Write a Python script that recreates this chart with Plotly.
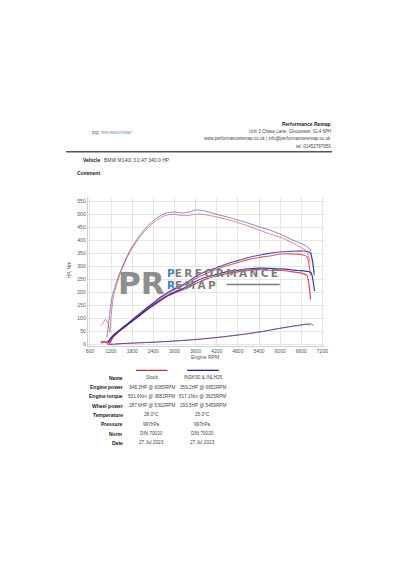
import plotly.graph_objects as go

# ---------------- data ----------------
stock_torque_rpm = [900, 950, 1040, 1116, 1165, 1200, 1260, 1320, 1400, 1500, 1650, 1800, 2000, 2200, 2400, 2600, 2800, 3000, 3240, 3450, 3682, 3900, 4200, 4500, 4800, 5100, 5400, 5700, 6065, 6300, 6500, 6650, 6760, 6830, 6860]
stock_torque = [72, 77, 97, 80, 45, 110, 175, 212, 248, 285, 333, 370, 410, 443, 467, 487, 498, 500, 495, 497, 501.6, 498, 490, 480, 468, 455, 440, 425, 409, 394, 380, 368, 355, 330, 315]

stock_power_rpm = [900, 960, 1040, 1100, 1160, 1200, 1260, 1320, 1400, 1500, 1650, 1800, 2000, 2200, 2400, 2600, 2800, 3000, 3240, 3450, 3682, 3900, 4200, 4500, 4800, 5100, 5400, 5700, 6065, 6300, 6500, 6650, 6760, 6830, 6860]
stock_power = [8, 12, 10, 13, 6, 18, 31, 39, 49, 60, 77, 94, 115, 137, 157, 178, 196, 211, 225, 241, 259, 273, 289, 303, 315, 326, 334, 340, 348.3, 348, 347, 344, 338, 300, 265]

stock_wheel_rpm = [920, 1000, 1100, 1160, 1200, 1260, 1320, 1400, 1500, 1650, 1800, 2000, 2200, 2400, 2600, 2800, 3000, 3240, 3450, 3682, 3900, 4200, 4500, 4800, 5100, 5302, 5500, 5700, 6065, 6300, 6500, 6650, 6760, 6830, 6863]
stock_wheel = [5, 9, 6, 5, 15, 28, 36, 46, 57, 73, 89, 109, 130, 149, 168, 185, 198, 210, 224, 239, 251, 263, 272, 279, 284, 287.6, 287, 285, 284, 280, 276, 272, 265, 220, 173]

stock_loss_rpm = [1160, 1300, 1500, 2000, 2500, 3000, 3500, 4000, 4500, 5000, 5500, 6000, 6300, 6500, 6650, 6760, 6820, 6850]
stock_loss = [0, 1, 3, 6, 9, 13, 17, 23, 31, 39, 49, 62, 68, 72, 75, 77, 76, 70]

tuned_torque_rpm = [1080, 1130, 1180, 1250, 1320, 1400, 1500, 1650, 1800, 2000, 2200, 2400, 2600, 2800, 3000, 3240, 3450, 3625, 3850, 4200, 4500, 4800, 5100, 5400, 5700, 6065, 6300, 6500, 6652, 6750, 6850, 6920, 6960]
tuned_torque = [25, 80, 140, 195, 225, 258, 292, 338, 376, 416, 450, 475, 495, 506, 509, 505, 510, 517.1, 513, 500, 490, 478, 466, 452, 440, 420, 405, 393, 384.5, 377, 366, 320, 276]

tuned_power_rpm = [1100, 1130, 1180, 1250, 1320, 1400, 1500, 1650, 1800, 2000, 2200, 2400, 2600, 2800, 3000, 3240, 3450, 3625, 3850, 4200, 4500, 4800, 5100, 5400, 5700, 6065, 6300, 6500, 6652, 6750, 6850, 6920, 6970]
tuned_power = [4, 13, 23, 34, 42, 51, 62, 78, 95, 117, 139, 160, 181, 199, 214, 230, 247, 263, 278, 295, 310, 322, 334, 343, 350, 356, 357.5, 358.5, 359.2, 358, 352, 320, 265]

tuned_wheel_rpm = [1130, 1180, 1250, 1320, 1400, 1500, 1650, 1800, 2000, 2200, 2400, 2600, 2800, 3000, 3240, 3450, 3625, 3850, 4200, 4500, 4800, 5100, 5459, 5700, 6065, 6300, 6500, 6652, 6750, 6880, 6940, 6976]
tuned_wheel = [10, 20, 31, 40, 49, 59, 74, 90, 111, 132, 152, 171, 188, 201, 215, 229, 244, 256, 269, 280, 285, 290, 293.5, 292, 290, 287, 284, 283, 281, 276, 240, 205]

tuned_loss_rpm = [1100, 1300, 1500, 2000, 2500, 3000, 3500, 4000, 4500, 5000, 5500, 6000, 6300, 6500, 6700, 6850, 6920, 6950]
tuned_loss = [0, 1, 3, 6, 9, 13, 18, 24, 31, 40, 50, 62, 69, 73, 77, 79, 76, 70]

x_ticks = [600, 1200, 1800, 2400, 3000, 3600, 4200, 4800, 5400, 6000, 6600, 7200]
y_ticks = [0, 50, 100, 150, 200, 250, 300, 350, 400, 450, 500, 550]

run_names = ["Stock", "INDK50 & INLH25"]
row_labels = ["Name", "Engine power", "Engine torque", "Wheel power", "Temperature", "Pressure", "Norm", "Date"]
stock_col = ["Stock", "348.3HP @ 6065RPM", "501.6Nm @ 3682RPM", "287.6HP @ 5302RPM", "28.0°C", "997hPa", "DIN 70020", "27 Jul 2023"]
tuned_col = ["INDK50 & INLH25", "359.2HP @ 6652RPM", "517.1Nm @ 3625RPM", "293.5HP @ 5459RPM", "25.0°C", "997hPa", "DIN 70020", "27 Jul 2023"]

header_lines = ["Unit 3 Chase Lane, Gloucester, GL4 6PH",
                "www.performanceremap.co.uk | info@performanceremap.co.uk",
                "tel. 01452787050"]

# ---------------- styling ----------------
W, H = 400, 570
FONT = "Liberation Sans, Arial, sans-serif"
RED = "#d2344c"
BLUE = "#2a249c"

def px(x):
    return x / W

def py(y):
    return 1 - y / H

fig = go.Figure()

def add_line(xs, ys, color, opacity, width=1.0):
    fig.add_trace(go.Scatter(x=xs, y=ys, mode="lines", line=dict(color=color, width=width, shape="spline", smoothing=0.6),
                             opacity=opacity, hoverinfo="skip", showlegend=False))

add_line(stock_loss_rpm, stock_loss, RED, 0.6)
add_line(tuned_loss_rpm, tuned_loss, BLUE, 0.7)
add_line(stock_torque_rpm, stock_torque, RED, 0.6)
add_line(tuned_torque_rpm, tuned_torque, BLUE, 0.55)
add_line(stock_power_rpm, stock_power, RED, 0.8, 1.1)
add_line(tuned_power_rpm, tuned_power, BLUE, 0.8, 1.1)
add_line(stock_wheel_rpm, stock_wheel, RED, 0.9, 1.2)
add_line(tuned_wheel_rpm, tuned_wheel, BLUE, 0.9, 1.2)

ann = []

def txt(x, y, s, size=5, bold=False, anchor="left", color="#333333", family=FONT, angle=0):
    ann.append(dict(x=px(x), y=py(y), xref="paper", yref="paper", text=("<b>%s</b>" % s) if bold else s,
                    showarrow=False, xanchor=anchor, yanchor="middle", textangle=angle, borderpad=0,
                    font=dict(size=size, color=color, family=family)))

# header
txt(335, 124, "Performance Remap", size=5, bold=True, anchor="right", color="#222222")
for i, line in enumerate(header_lines):
    txt(335, 131.5 + i * 7.7, line, size=4.5, anchor="right", color="#444444")

# tiny logo at left of header
txt(90, 133, "PR", size=5, bold=True, color="#9a9a9a", anchor="left")
txt(99, 133, "PERFORMANCE REMAP", size=2.6, bold=True, color="#8fa8c8", anchor="left")

txt(100, 160.5, "Vehicle", size=5, bold=True, anchor="right", color="#222222")
txt(103, 160.5, "BMW M140I 3.0 AT 340.0 HP", size=5, anchor="left", color="#444444")
txt(75, 173.5, "Comment", size=5, bold=True, anchor="left", color="#222222")

# axis titles
txt(68, 270, "HP, Nm", size=5, color="#555555", anchor="center", angle=-90)
txt(206, 357.5, "Engine RPM", size=5, color="#555555", anchor="center")

# watermark logo
txt(141.5, 283.5, "PR", size=31, bold=True, anchor="center", color="#8e8e8e", family="DejaVu Sans")
txt(167, 273.5, "<span style='color:#3d82c4'>P</span><span style='letter-spacing:2.4px'>ERFORMANCE</span>", size=10.5, bold=True,
    anchor="left", color="#7d7d7d", family="DejaVu Sans")
txt(167, 285, "<span style='color:#3d82c4'>R</span><span style='letter-spacing:2.4px'>EMAP</span>", size=10.5, bold=True,
    anchor="left", color="#7d7d7d", family="DejaVu Sans")

# table
for i, lab in enumerate(row_labels):
    yy = 378.5 + i * 9.3
    txt(123.5, yy, lab, size=5, bold=True, anchor="right", color="#222222")
    txt(152, yy, stock_col[i], size=4.7, anchor="center", color="#444444")
    txt(204, yy, tuned_col[i], size=4.7, anchor="center", color="#444444")

shapes = [
    dict(type="line", xref="paper", yref="paper", x0=px(65), x1=px(335), y0=py(152), y1=py(152),
         line=dict(color="#555555", width=1.6)),
    dict(type="line", xref="paper", yref="paper", x0=px(228), x1=px(282), y0=py(285), y1=py(285),
         line=dict(color="#7d7d7d", width=1.5)),
    dict(type="line", xref="paper", yref="paper", x0=px(136), x1=px(168), y0=py(371), y1=py(371),
         line=dict(color="#cc2f2f", width=1.3)),
    dict(type="line", xref="paper", yref="paper", x0=px(188), x1=px(220), y0=py(371), y1=py(371),
         line=dict(color="#23209a", width=1.3)),
]

fig.update_layout(
    width=W, height=H,
    margin=dict(l=0, r=0, t=0, b=0),
    paper_bgcolor="white", plot_bgcolor="white",
    annotations=ann, shapes=shapes,
    font=dict(family=FONT, size=5, color="#555555"),
    xaxis=dict(domain=[px(87), px(327)], range=[536, 7248], tickvals=x_ticks,
               showgrid=True, gridcolor="#e6e6e6", gridwidth=1, zeroline=False,
               showline=True, linecolor="#d0d0d0", linewidth=1, mirror=False,
               ticks="", tickfont=dict(size=5, color="#555555"), ticklen=2),
    yaxis=dict(domain=[py(347), py(197)], range=[-7.7, 568], tickvals=y_ticks,
               showgrid=True, gridcolor="#e6e6e6", gridwidth=1, zeroline=False,
               showline=True, linecolor="#d0d0d0", linewidth=1,
               ticks="", tickfont=dict(size=5, color="#555555")),
)

fig.write_html("out.html")
